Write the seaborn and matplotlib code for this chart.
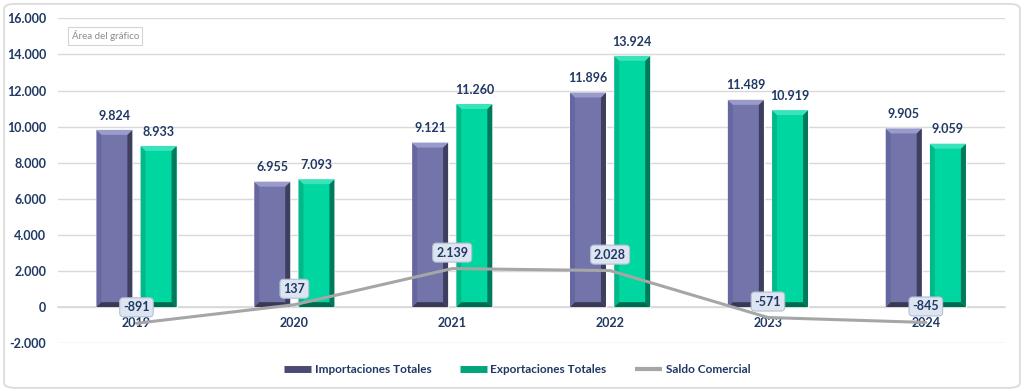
import pandas as pd
import matplotlib.pyplot as plt
import seaborn as sns
from matplotlib.lines import Line2D
from matplotlib.patches import FancyBboxPatch

sns.set_theme(style='white')
plt.rcParams['font.family'] = ['Lato', 'DejaVu Sans']

years = ['2019', '2020', '2021', '2022', '2023', '2024']
importaciones = [9824, 6955, 9121, 11896, 11489, 9905]
exportaciones = [8933, 7093, 11260, 13924, 10919, 9059]
saldo = [-891, 137, 2139, 2028, -571, -845]

series_names = ['Importaciones Totales', 'Exportaciones Totales', 'Saldo Comercial']
navy = '#1f3864'

# face, left side, right side, top, bottom
bevel_colors = {
    'imp': ['#7374a9', '#6667a0', '#3e3e5e', '#9a9acb', '#393955'],
    'exp': ['#00d6a0', '#00b98a', '#007a5a', '#3ae3b9', '#006a4f'],
}


def fmt(v):
    return f'{v:,.0f}'.replace(',', '.')


df = pd.DataFrame({
    'year': years * 2,
    'valor': importaciones + exportaciones,
    'serie': [series_names[0]] * len(years) + [series_names[1]] * len(years),
})

fig = plt.figure(figsize=(10.24, 3.91), dpi=100)
fig.patches.append(FancyBboxPatch((0.004, 0.008), 0.992, 0.982,
                                  boxstyle='round,pad=0,rounding_size=0.012',
                                  transform=fig.transFigure, fc='white',
                                  ec='#d9d9d9', lw=1.2, zorder=-5))
ax = fig.add_axes([0.0562, 0.122, 0.925, 0.831])
ax.set_facecolor('none')

sns.barplot(data=df, x='year', y='valor', hue='serie', ax=ax,
            palette=[bevel_colors['imp'][0], bevel_colors['exp'][0]],
            saturation=1, width=0.56, gap=0.186, legend=False, zorder=3)

ax.set_xlim(-0.5, len(years) - 0.5)
ax.set_ylim(-2000, 16000)
ax.set_yticks(range(-2000, 16001, 2000))
ax.set_yticklabels([fmt(v) for v in range(-2000, 16001, 2000)])
ax.yaxis.grid(True, color='#d9d9d9', lw=1)
ax.set_axisbelow(True)

# bevel effect built from each bar's own geometry
fig.canvas.draw()
px_x = (ax.get_xlim()[1] - ax.get_xlim()[0]) / ax.get_window_extent().width
px_y = (ax.get_ylim()[1] - ax.get_ylim()[0]) / ax.get_window_extent().height
bx, by = 5 * px_x, 5 * px_y
for cont, key in zip(ax.containers[:2], ['imp', 'exp']):
    face, left, right, top, bottom = bevel_colors[key]
    for bar in cont:
        x0, w, h = bar.get_x(), bar.get_width(), bar.get_height()
        x1 = x0 + w
        ax.fill([x0, x0 + bx, x0 + bx, x0], [0, by, h - by, h], color=left, lw=0, zorder=4)
        ax.fill([x1, x1 - bx, x1 - bx, x1], [0, by, h - by, h], color=right, lw=0, zorder=4)
        ax.fill([x0, x1, x1 - bx, x0 + bx], [h, h, h - by, h - by], color=top, lw=0, zorder=4)
        ax.fill([x0, x1, x1 - bx, x0 + bx], [0, 0, by, by], color=bottom, lw=0, zorder=4)
    ax.bar_label(cont, labels=[fmt(b.get_height()) for b in cont], padding=6,
                 fontsize=9, fontweight='bold', color=navy)

sns.pointplot(x=years, y=saldo, ax=ax, color='#a6a6a6', markersize=0,
              linewidth=2.2, errorbar=None)
for ln in ax.lines:
    ln.set_zorder(6)

for i, v in enumerate(saldo):
    ax.annotate(fmt(v), (i, v), xytext=(0, 11.5), textcoords='offset points',
                ha='center', va='center', fontsize=9, fontweight='bold', color=navy,
                zorder=7,
                bbox=dict(boxstyle='round,pad=0.28,rounding_size=0.3',
                          fc='#dde5f1', ec='#b3c0d6', lw=0.8))

for s in ['top', 'right', 'left']:
    ax.spines[s].set_visible(False)
ax.spines['bottom'].set_position(('data', 0))
ax.spines['bottom'].set_color('#d9d9d9')
ax.spines['bottom'].set_zorder(1)
ax.tick_params(axis='x', length=0, pad=7, labelsize=9, labelcolor=navy)
ax.tick_params(axis='y', length=0, pad=8, labelsize=9, labelcolor=navy)
for lab in ax.get_xticklabels() + ax.get_yticklabels():
    lab.set_fontweight('bold')
ax.set_xlabel('')
ax.set_ylabel('')

handles = [
    Line2D([], [], color='#4a4a72', lw=5, solid_capstyle='butt'),
    Line2D([], [], color='#00a57c', lw=5, solid_capstyle='butt'),
    Line2D([], [], color='#a6a6a6', lw=3, solid_capstyle='butt'),
]
fig.legend(handles, series_names, loc='center', bbox_to_anchor=(0.505, 0.054),
           ncol=3, frameon=False, handlelength=2.3, handletextpad=0.3,
           columnspacing=2.4, labelcolor=navy,
           prop={'size': 8.5, 'weight': 'bold', 'family': ['Lato', 'DejaVu Sans']})

fig.text(0.070, 0.908, 'Área del gráfico', fontsize=7, color='#8c8c8c', va='center',
         bbox=dict(boxstyle='square,pad=0.35', fc='white', ec='#d4d4d4', lw=0.8))

fig.savefig('out.png', dpi=100)
